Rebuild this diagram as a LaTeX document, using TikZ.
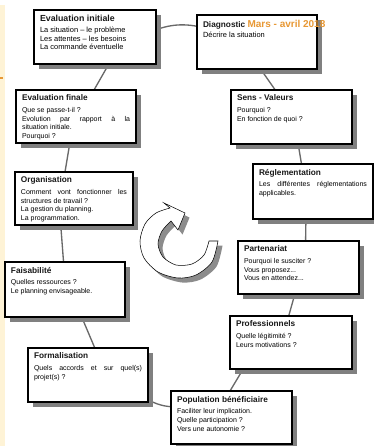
\documentclass[tikz,border=0pt]{standalone}
\usepackage{fontspec}
\setmainfont{Liberation Sans}
\usetikzlibrary{shadows,backgrounds}
\definecolor{shadowgray}{RGB}{128,128,128}
\definecolor{arrowshadow}{RGB}{140,140,140}
\definecolor{conngray}{RGB}{105,105,105}
\definecolor{marsorange}{RGB}{232,152,52}
\definecolor{stripyellow}{RGB}{254,243,214}
\definecolor{titleblack}{RGB}{25,25,25}
\newdimen\pxu \pxu=0.75pt
\newcommand\ttlf{\fontsize{6.2pt}{7pt}\selectfont\bfseries\color{titleblack}}
\newcommand\bigttlf{\fontsize{6.6pt}{7.4pt}\selectfont\bfseries\color{titleblack}}
\newcommand\bodyf{\fontsize{5.25pt}{6.4pt}\selectfont\hyphenpenalty10000 \exhyphenpenalty10000 }
\newcommand\topbodyf{\fontsize{5.6pt}{6.5pt}\selectfont\hyphenpenalty10000 \exhyphenpenalty10000 }
\newcommand\marsf{\fontsize{7.5pt}{8pt}\selectfont\bfseries\color{marsorange}}
% name, x, y, width(px), height(px), content
\newcommand\stepbox[6]{%
  \node[boxst] (#1) at (#2,#3)
    {\parbox[t][\dimexpr #5\pxu-10\pxu\relax][t]{\dimexpr #4\pxu-12\pxu\relax}{#6}};}
\tikzset{
  boxst/.style={draw=black, line width=0.8pt, fill=white, anchor=north west,
    inner xsep=4.5pt, inner ysep=3.75pt, outer sep=0pt,
    drop shadow={shadow xshift=3.75pt, shadow yshift=-3.75pt, fill=shadowgray, opacity=1}},
  conn/.style={draw=conngray, line width=1pt},
  ringarrow/.style={draw=black, line width=0.4pt, fill=white,
    drop shadow={shadow xshift=3.4pt, shadow yshift=-3.4pt, fill=arrowshadow, opacity=1}}
}
\begin{document}
\begin{tikzpicture}[x=0.75pt,y=-0.75pt]
\useasboundingbox (0,0) rectangle (374,446);
\clip (0,0) rectangle (374,446);

% boxes
\stepbox{ei}{34}{10}{122}{54}{{\bigttlf Evaluation initiale\par}\vspace{1.75pt}%
  {\topbodyf La situation – le problème\par Les attentes – les besoins\par La commande éventuelle\par}}
\stepbox{dg}{197}{15}{120}{54}{{\ttlf Diagnostic~\rlap{\marsf Mars - avril 2018}\par}\vspace{1.5pt}%
  {\topbodyf Décrire la situation\par}}
\stepbox{ef}{16}{90}{120}{53}{{\ttlf Evaluation finale\par}\vspace{2.5pt}%
  {\bodyf Que se passe-t-il ?\par Evolution par rapport à la\linebreak situation initiale.\par Pourquoi ?\par}}
\stepbox{sv}{231}{90}{121}{54}{{\ttlf Sens - Valeurs\par}\vspace{2.5pt}%
  {\bodyf Pourquoi ?\par En fonction de quoi ?\par}}
\stepbox{org}{15}{172}{118}{53}{{\ttlf Organisation\par}\vspace{2.5pt}%
  {\bodyf Comment vont fonctionner les\linebreak structures de travail ?\par La gestion du planning.\par La programmation.\par}}
\stepbox{rg}{253}{164}{120}{55}{{\ttlf Réglementation\par}\vspace{2.5pt}%
  {\bodyf Les différentes réglementations\linebreak applicables.\par}}
\stepbox{fa}{5}{262}{120}{55}{{\ttlf Faisabilité\par}\vspace{2.5pt}%
  {\bodyf Quelles ressources ?\par Le planning envisageable.\par}}
\stepbox{pa}{238}{241}{121}{53}{{\ttlf Partenariat\par}\vspace{2.5pt}%
  {\bodyf Pourquoi le susciter ?\par Vous proposez...\par Vous en attendez...\par}}
\stepbox{pr}{230}{316}{122}{53}{{\ttlf Professionnels\par}\vspace{2.5pt}%
  {\bodyf Quelle légitimité ?\par Leurs motivations ?\par}}
\stepbox{fo}{28}{348}{120}{54}{{\ttlf Formalisation\par}\vspace{2.5pt}%
  {\bodyf Quels accords et sur quel(s)\linebreak projet(s) ?\par}}
\stepbox{po}{171}{391}{121}{53}{{\ttlf Population bénéficiaire\par}\vspace{2.5pt}%
  {\bodyf Faciliter leur implication.\par Quelle participation ?\par Vers une autonomie ?\par}}

% page background, left strip and connectors (behind the boxes)
\begin{pgfonlayer}{background}
\fill[white] (0,0) rectangle (374,446);
\fill[stripyellow] (0,5) rectangle (5,446);
\draw[marsorange, line width=0.8pt] (0,78) -- (3,78);
\draw[conn] ([shift={(-6,22)}]ei.north east) to[bend left=18] ([shift={(8,13)}]dg.north west);
\draw[conn] ([shift={(76.8,-3.4)}]ei.south west) -- ([shift={(73.2,8.4)}]ef.north west);
\draw[conn] ([shift={(62.5,-1.5)}]dg.south west) -- ([shift={(49.5,7.5)}]sv.north west);
\draw[conn] ([shift={(54,-1)}]ef.south west) -- ([shift={(49,6)}]org.north west);
\draw[conn] ([shift={(66.5,-4)}]sv.south west) -- ([shift={(49.5,6)}]rg.north west);
\draw[conn] ([shift={(45.5,-3)}]org.south west) -- ([shift={(59,6)}]fa.north west);
\draw[conn] ([shift={(53,-5)}]rg.south west) -- ([shift={(67.5,6)}]pa.north west);
\draw[conn] ([shift={(75,-4)}]fa.south west) -- ([shift={(68.5,4)}]fo.north west);
\draw[conn] ([shift={(58,-4)}]pa.south west) -- ([shift={(57,6)}]pr.north west);
\draw[conn] ([shift={(-3,-4)}]fo.south east) to[bend right=15] ([shift={(7,16)}]po.north west);
\draw[conn] ([shift={(15,-3)}]pr.south west) -- ([shift={(56,5)}]po.north west);
\end{pgfonlayer}

% circular arrow
\path[ringarrow] (218,241)
  -- plot[smooth] coordinates {(218,241) (212,262) (196,275) (178,278) (158,272) (144,258) (140,241) (145,224) (156,213) (170,208)}
  -- (164,203) -- (185,213) -- (178,230) -- (171,221)
  -- plot[smooth] coordinates {(171,221) (162,231) (158,244) (163,257) (176,265) (192,264) (204,255) (209,241)}
  -- cycle;
\end{tikzpicture}
\end{document}
